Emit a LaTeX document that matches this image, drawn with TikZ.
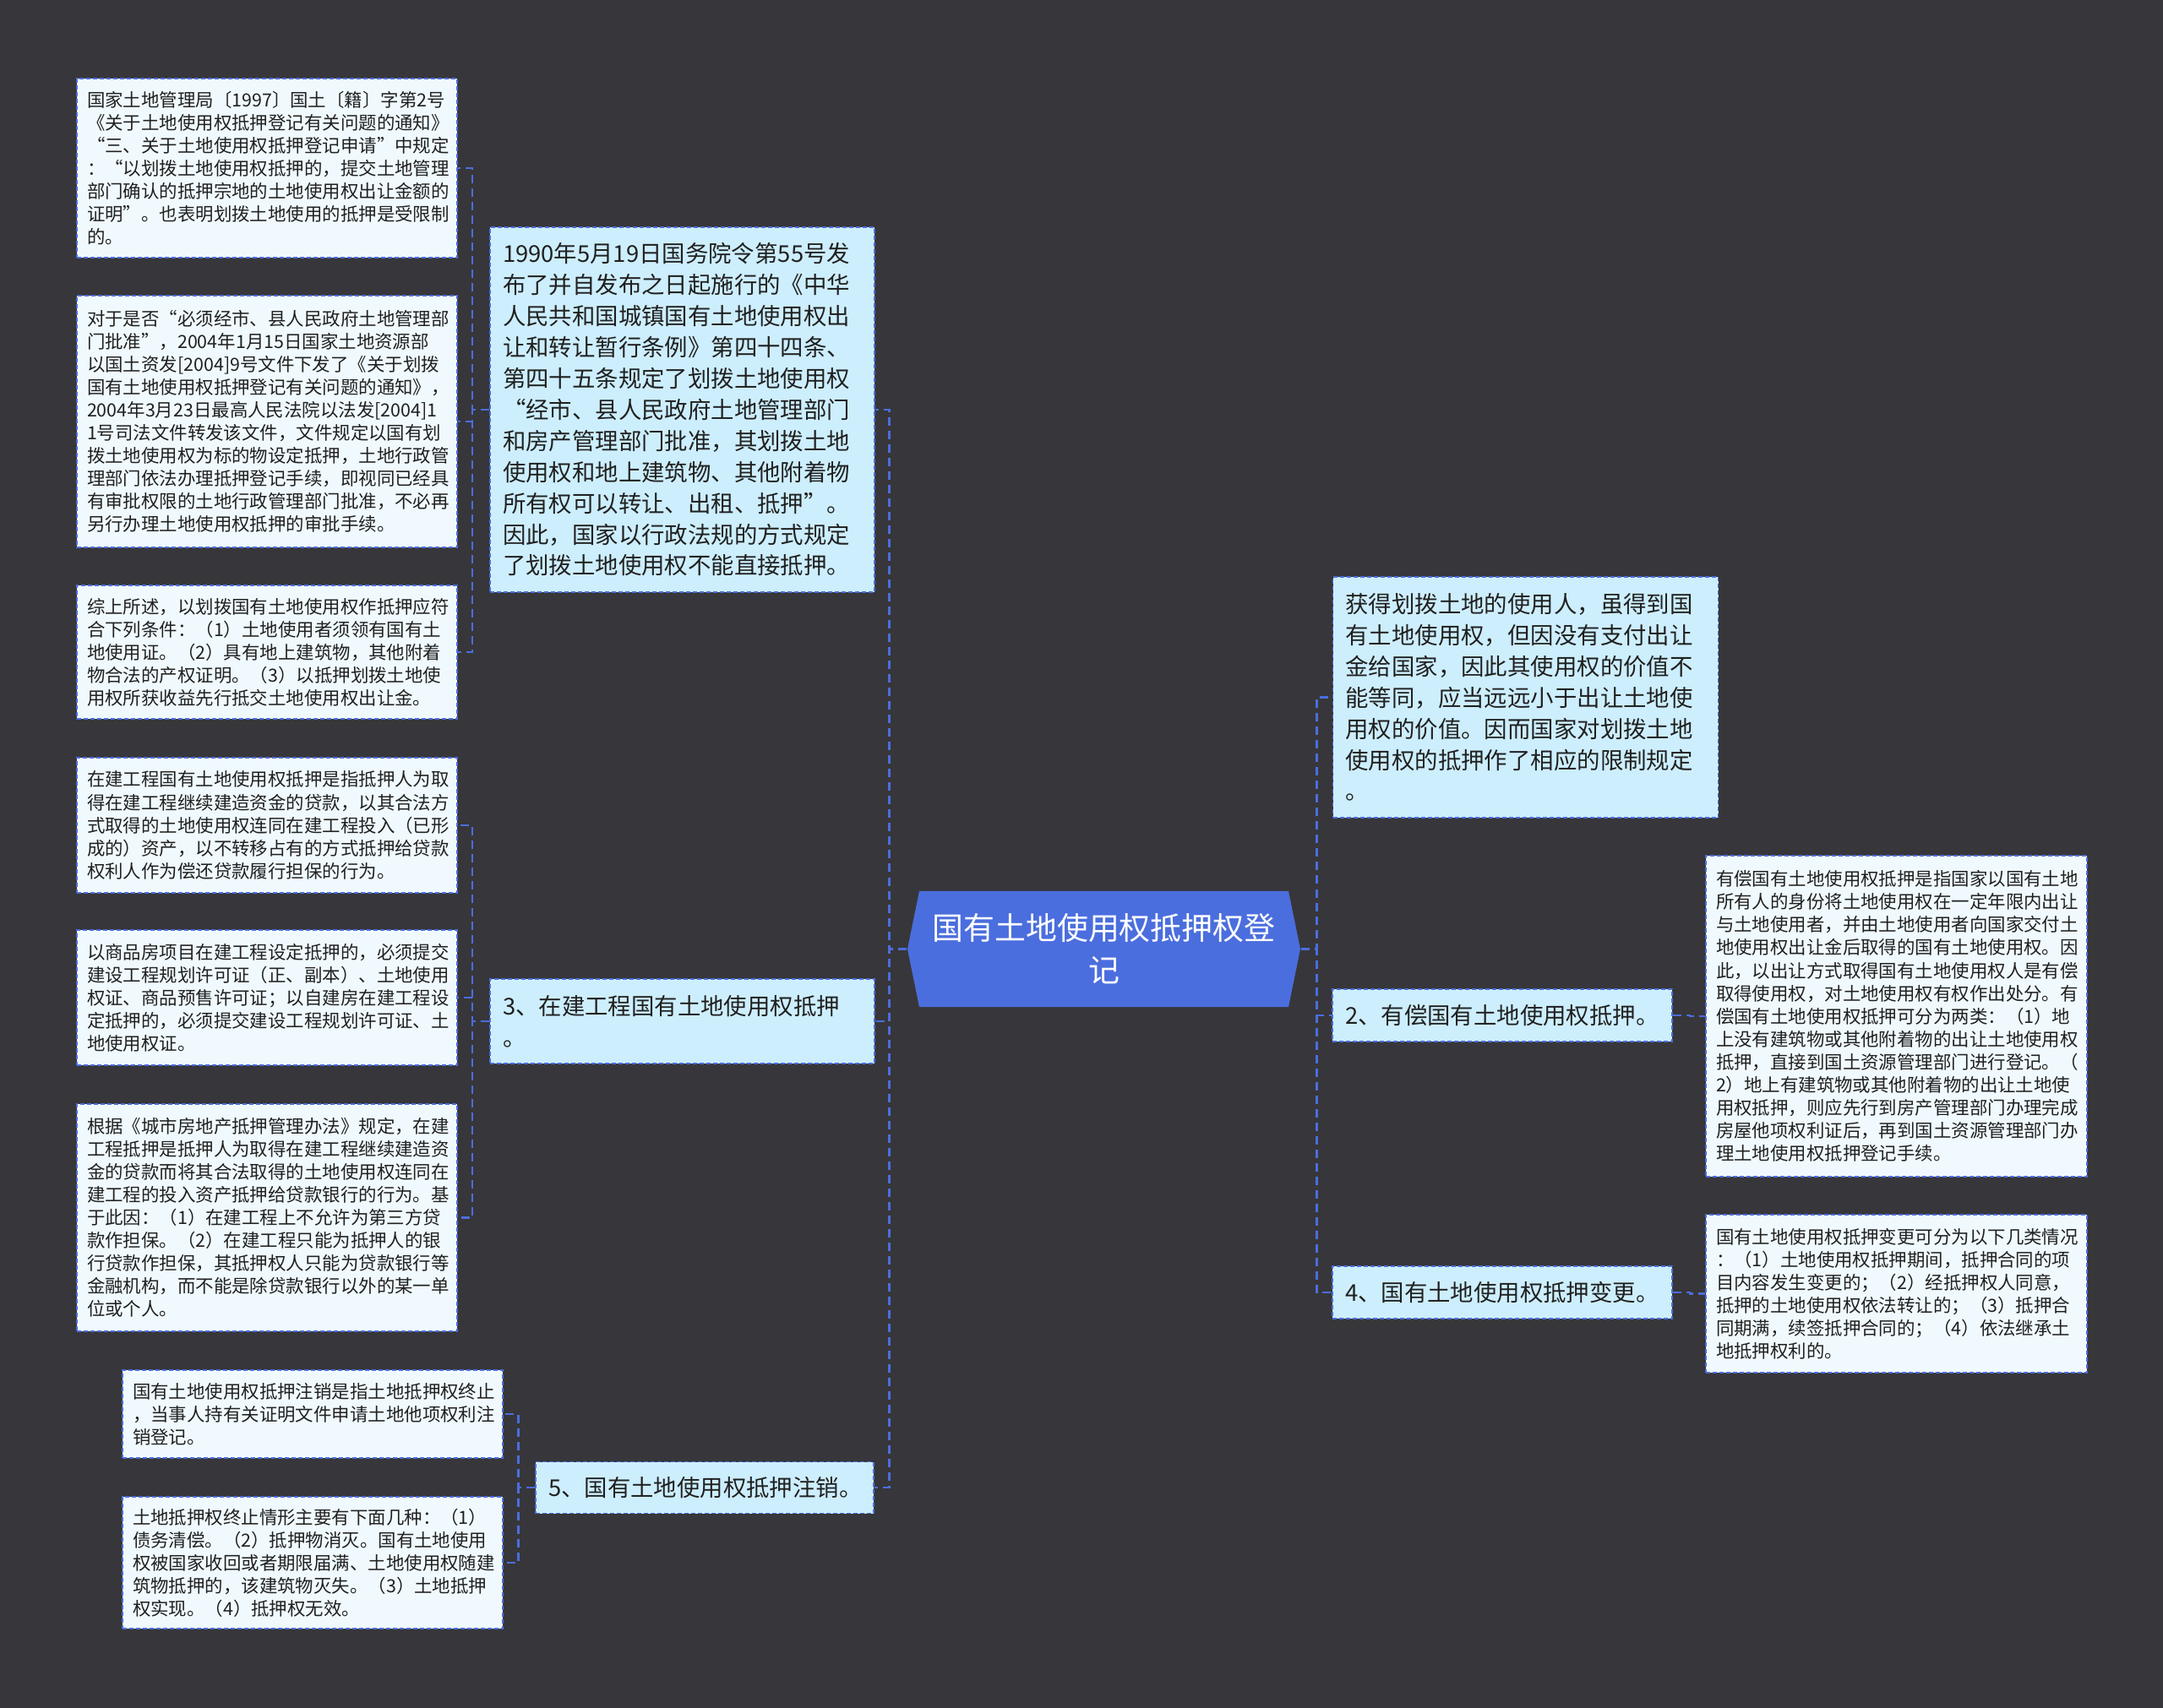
\documentclass[tikz,border=0pt]{standalone}
\usepackage{fontspec}
\setmainfont{Noto Sans CJK SC}
\usetikzlibrary{positioning}
\definecolor{Ground}{HTML}{37363A}
\definecolor{Royal}{HTML}{4B6EDE}
\definecolor{Sky}{HTML}{CDEEFD}
\definecolor{Ice}{HTML}{F0FAFE}
\definecolor{Ink}{HTML}{202020}

\begin{document}
\begin{tikzpicture}[x=1mm,y=-1mm,
    root/.style={minimum width=46.5mm,minimum height=13.7mm,text width=42mm,
      align=center,text=white,font=\fontsize{10.5pt}{14.2pt}\selectfont,
      path picture={\fill[Royal]
        ([xshift=1.4mm]path picture bounding box.north west)
        -- ([xshift=-1.4mm]path picture bounding box.north east)
        -- (path picture bounding box.east)
        -- ([xshift=-1.4mm]path picture bounding box.south east)
        -- ([xshift=1.4mm]path picture bounding box.south west)
        -- (path picture bounding box.west) -- cycle;}},
    topic/.style={draw=Royal,line width=0.5pt,dash pattern=on 0.5mm off 0.3mm,
      fill=Sky,inner xsep=1.5mm,text width=42.5mm,minimum width=45.5mm,
      align=left,text=Ink,font=\fontsize{7.8pt}{10.5pt}\selectfont},
    leaf/.style={draw=Royal,line width=0.5pt,dash pattern=on 0.5mm off 0.3mm,
      fill=Ice,inner xsep=1.2mm,text width=42.6mm,minimum width=45mm,
      align=left,text=Ink,font=\fontsize{6.1pt}{7.7pt}\selectfont},
    link/.style={Royal,line width=0.7pt,dash pattern=on 1mm off 0.6mm}
  ]
    \useasboundingbox (0,0) rectangle (256,202.2);
    \fill[Ground] (0,0) rectangle (256,202.2);

    % centre
    \node[root] (root) at (130.65,112.35) {国有土地使用权抵押权登\\记};

    % left branches
    \node[topic,minimum height=43.2mm] (huabo) at (80.75,48.5) {
      1990年5月19日国务院令第55号发\\
      布了并自发布之日起施行的《中华\\
      人民共和国城镇国有土地使用权出\\
      让和转让暂行条例》第四十四条、\\
      第四十五条规定了划拨土地使用权\\
      “经市、县人民政府土地管理部门\\
      和房产管理部门批准，其划拨土地\\
      使用权和地上建筑物、其他附着物\\
      所有权可以转让、出租、抵押”。\\
      因此，国家以行政法规的方式规定\\
      了划拨土地使用权不能直接抵押。};
    \node[topic,minimum height=10mm] (zaijian) at (80.75,120.9)
      {3、在建工程国有土地使用权抵押\\。};
    \node[topic,text width=37mm,minimum width=40mm,minimum height=6.1mm]
      (zhuxiao) at (83.4,176.1) {5、国有土地使用权抵押注销。};

    % right branches
    \node[topic,text width=42.6mm,minimum width=45.6mm,minimum height=28.5mm]
      (xianzhi) at (180.55,82.55) {
      获得划拨土地的使用人，虽得到国\\
      有土地使用权，但因没有支付出让\\
      金给国家，因此其使用权的价值不\\
      能等同，应当远远小于出让土地使\\
      用权的价值。因而国家对划拨土地\\
      使用权的抵押作了相应的限制规定\\
      。};
    \node[topic,text width=37.2mm,minimum width=40.2mm,minimum height=6.2mm]
      (youchang) at (177.8,120.2) {2、有偿国有土地使用权抵押。};
    \node[topic,text width=37.2mm,minimum width=40.2mm,minimum height=6.2mm]
      (biangeng) at (177.8,153) {4、国有土地使用权抵押变更。};

    % leaves of huabo
    \node[leaf,minimum height=21.2mm] (tongzhi) at (31.6,19.9) {
      国家土地管理局〔1997〕国土〔籍〕字第2号\\
      《关于土地使用权抵押登记有关问题的通知》\\
      “三、关于土地使用权抵押登记申请”中规定\\
      ：“以划拨土地使用权抵押的，提交土地管理\\
      部门确认的抵押宗地的土地使用权出让金额的\\
      证明”。也表明划拨土地使用的抵押是受限制\\
      的。};
    \node[leaf,minimum height=29.8mm] (pizhun) at (31.6,49.9) {
      对于是否“必须经市、县人民政府土地管理部\\
      门批准”，2004年1月15日国家土地资源部\\
      以国土资发[2004]9号文件下发了《关于划拨\\
      国有土地使用权抵押登记有关问题的通知》，\\
      2004年3月23日最高人民法院以法发[2004]1\\
      1号司法文件转发该文件，文件规定以国有划\\
      拨土地使用权为标的物设定抵押，土地行政管\\
      理部门依法办理抵押登记手续，即视同已经具\\
      有审批权限的土地行政管理部门批准，不必再\\
      另行办理土地使用权抵押的审批手续。};
    \node[leaf,minimum height=15.8mm] (tiaojian) at (31.6,77.2) {
      综上所述，以划拨国有土地使用权作抵押应符\\
      合下列条件：（1）土地使用者须领有国有土\\
      地使用证。（2）具有地上建筑物，其他附着\\
      物合法的产权证明。（3）以抵押划拨土地使\\
      用权所获收益先行抵交土地使用权出让金。};

    % leaves of zaijian
    \node[leaf,minimum height=16mm] (dingyi) at (31.6,97.7) {
      在建工程国有土地使用权抵押是指抵押人为取\\
      得在建工程继续建造资金的贷款，以其合法方\\
      式取得的土地使用权连同在建工程投入（已形\\
      成的）资产，以不转移占有的方式抵押给贷款\\
      权利人作为偿还贷款履行担保的行为。};
    \node[leaf,minimum height=16mm] (shangpin) at (31.6,118.1) {
      以商品房项目在建工程设定抵押的，必须提交\\
      建设工程规划许可证（正、副本）、土地使用\\
      权证、商品预售许可证；以自建房在建工程设\\
      定抵押的，必须提交建设工程规划许可证、土\\
      地使用权证。};
    \node[leaf,minimum height=26.9mm] (banfa) at (31.6,144.15) {
      根据《城市房地产抵押管理办法》规定，在建\\
      工程抵押是抵押人为取得在建工程继续建造资\\
      金的贷款而将其合法取得的土地使用权连同在\\
      建工程的投入资产抵押给贷款银行的行为。基\\
      于此因：（1）在建工程上不允许为第三方贷\\
      款作担保。（2）在建工程只能为抵押人的银\\
      行贷款作担保，其抵押权人只能为贷款银行等\\
      金融机构，而不能是除贷款银行以外的某一单\\
      位或个人。};

    % leaves of zhuxiao
    \node[leaf,minimum height=10.4mm] (zhuxiaoyi) at (37,167.4) {
      国有土地使用权抵押注销是指土地抵押权终止\\
      ，当事人持有关证明文件申请土地他项权利注\\
      销登记。};
    \node[leaf,minimum height=15.6mm] (zhongzhi) at (37,185) {
      土地抵押权终止情形主要有下面几种：（1）\\
      债务清偿。（2）抵押物消灭。国有土地使用\\
      权被国家收回或者期限届满、土地使用权随建\\
      筑物抵押的，该建筑物灭失。（3）土地抵押\\
      权实现。（4）抵押权无效。};

    % leaves on the right
    \node[leaf,text width=42.7mm,minimum width=45.1mm,minimum height=38mm]
      (youchangyi) at (224.45,120.3) {
      有偿国有土地使用权抵押是指国家以国有土地\\
      所有人的身份将土地使用权在一定年限内出让\\
      与土地使用者，并由土地使用者向国家交付土\\
      地使用权出让金后取得的国有土地使用权。因\\
      此，以出让方式取得国有土地使用权人是有偿\\
      取得使用权，对土地使用权有权作出处分。有\\
      偿国有土地使用权抵押可分为两类：（1）地\\
      上没有建筑物或其他附着物的出让土地使用权\\
      抵押，直接到国土资源管理部门进行登记。（\\
      2）地上有建筑物或其他附着物的出让土地使\\
      用权抵押，则应先行到房产管理部门办理完成\\
      房屋他项权利证后，再到国土资源管理部门办\\
      理土地使用权抵押登记手续。};
    \node[leaf,text width=42.7mm,minimum width=45.1mm,minimum height=18.7mm]
      (biangengyi) at (224.45,153.15) {
      国有土地使用权抵押变更可分为以下几类情况\\
      ：（1）土地使用权抵押期间，抵押合同的项\\
      目内容发生变更的；（2）经抵押权人同意，\\
      抵押的土地使用权依法转让的；（3）抵押合\\
      同期满，续签抵押合同的；（4）依法继承土\\
      地抵押权利的。};

    % connectors
    \foreach \kid in {huabo,zaijian,zhuxiao}
      \draw[link] (root.west) -- ++(-2.1,0) |- (\kid.east);
    \foreach \kid in {xianzhi,youchang,biangeng}
      \draw[link] (root.east) -- ++(1.9,0) |- (\kid.west);
    \foreach \kid in {tongzhi,pizhun,tiaojian}
      \draw[link] (huabo.west) -- ++(-2,0) |- (\kid.east);
    \foreach \kid in {dingyi,shangpin,banfa}
      \draw[link] (zaijian.west) -- ++(-2,0) |- (\kid.east);
    \foreach \kid in {zhuxiaoyi,zhongzhi}
      \draw[link] (zhuxiao.west) -- ++(-1.95,0) |- (\kid.east);
    \draw[link] (youchang.east) -- ++(2,0) |- (youchangyi.west);
    \draw[link] (biangeng.east) -- ++(2,0) |- (biangengyi.west);
  \end{tikzpicture}
\end{document}
